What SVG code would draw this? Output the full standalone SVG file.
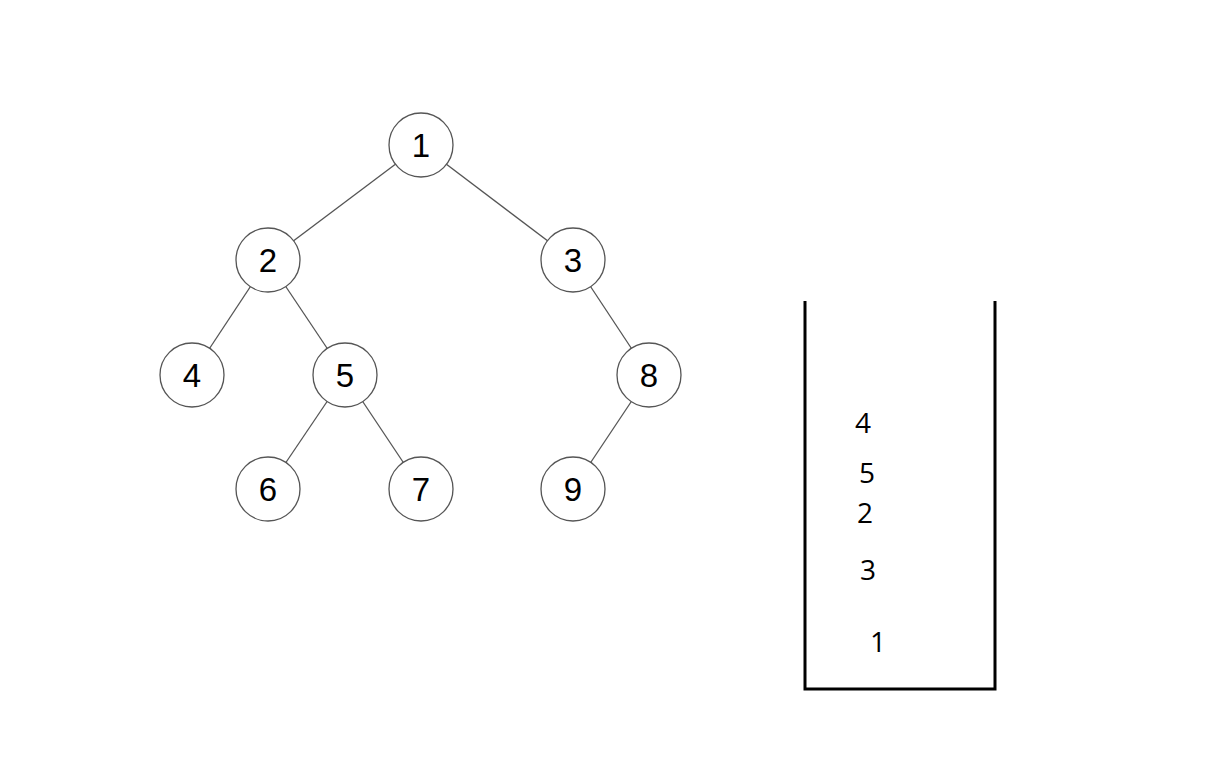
<svg xmlns="http://www.w3.org/2000/svg" width="1232" height="779" viewBox="0 0 1232 779">
<style>
.node circle{fill:#fff;stroke:#555;stroke-width:1.3}
.node text{font-family:"Liberation Sans",Arial,sans-serif;font-size:33px;fill:#000;text-anchor:middle}
.edges line{stroke:#555;stroke-width:1.3}
.stk{fill:none;stroke:#000;stroke-width:3}
.sv{font-family:"Open Sans",sans-serif;font-size:28px;fill:#000;text-anchor:middle}
</style>
<rect width="1232" height="779" fill="#fff"/>
<g id="connectors" class="edges">
<line x1="421" y1="145" x2="268" y2="260"/>
<line x1="421" y1="145" x2="573" y2="260"/>
<line x1="268" y1="260" x2="192" y2="375"/>
<line x1="268" y1="260" x2="345" y2="375"/>
<line x1="573" y1="260" x2="649" y2="375"/>
<line x1="345" y1="375" x2="268" y2="489"/>
<line x1="345" y1="375" x2="421" y2="489"/>
<line x1="649" y1="375" x2="573" y2="489"/>
</g>
<g id="n1" class="node"><circle cx="421" cy="145" r="32"/><text x="421" y="157">1</text></g>
<g id="n2" class="node"><circle cx="268" cy="260" r="32"/><text x="268" y="272">2</text></g>
<g id="n3" class="node"><circle cx="573" cy="260" r="32"/><text x="573" y="272">3</text></g>
<g id="n4" class="node"><circle cx="192" cy="375" r="32"/><text x="192" y="387">4</text></g>
<g id="n5" class="node"><circle cx="345" cy="375" r="32"/><text x="345" y="387">5</text></g>
<g id="n8" class="node"><circle cx="649" cy="375" r="32"/><text x="649" y="387">8</text></g>
<g id="n6" class="node"><circle cx="268" cy="489" r="32"/><text x="268" y="501">6</text></g>
<g id="n7" class="node"><circle cx="421" cy="489" r="32"/><text x="421" y="501">7</text></g>
<g id="n9" class="node"><circle cx="573" cy="489" r="32"/><text x="573" y="501">9</text></g>
<g id="stack">
<polyline class="stk" points="805,301 805,689 995,689 995,301"/>
<text class="sv" x="863" y="433">4</text>
<text class="sv" x="867" y="483">5</text>
<text class="sv" x="865" y="523">2</text>
<text class="sv" x="868" y="580">3</text>
<text class="sv" x="878" y="652">1</text>
</g>
</svg>
